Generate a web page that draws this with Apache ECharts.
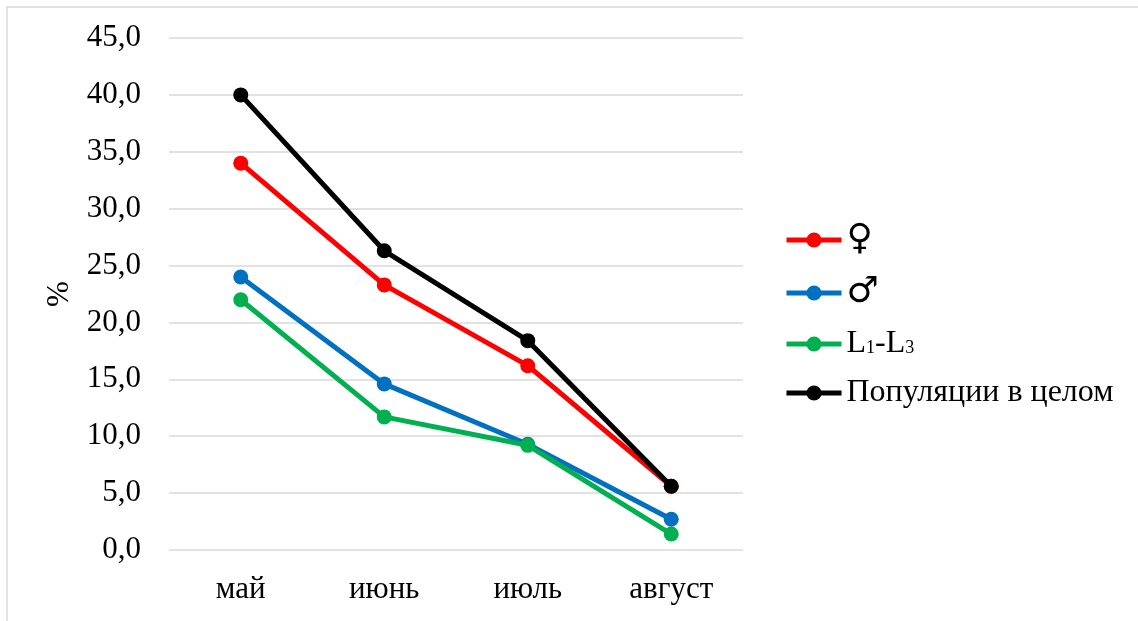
<!DOCTYPE html>
<html>
<head>
<meta charset="utf-8">
<script src="https://cdn.jsdelivr.net/npm/echarts@6/dist/echarts.min.js"></script>
<style>
  html, body { margin: 0; padding: 0; background: #fff; }
  #chart { width: 1138px; height: 621px; }
</style>
</head>
<body>
<div id="chart"></div>
<script>
// Months on the category axis
const months = ['май', 'июнь', 'июль', 'август'];

// Share (%) per month for each group
const females = [34.0, 23.3, 16.2, 5.6];
const males = [24.0, 14.6, 9.3, 2.7];
const larvae = [22.0, 11.7, 9.2, 1.4];
const population = [40.0, 26.3, 18.4, 5.6];

// Series names shown in the legend
const seriesNames = ['♀', '♂', 'L1-L3', 'Популяции в целом'];
const seriesColors = ['#FF0000', '#0070C0', '#00B050', '#000000'];
const seriesValues = [females, males, larvae, population];

// Value axis settings
const yMin = 0, yMax = 45, yStep = 5;

const FONT = '"Liberation Serif", "Times New Roman", serif';

const chart = echarts.init(document.getElementById('chart'));

const series = seriesNames.map((name, i) => ({
  name: name,
  type: 'line',
  data: seriesValues[i],
  symbol: 'circle',
  symbolSize: 15,
  showSymbol: true,
  lineStyle: { width: 5, color: seriesColors[i] },
  itemStyle: { color: seriesColors[i] },
  emphasis: { disabled: true },
  z: 2 + i
}));

chart.setOption({
  animation: false,
  backgroundColor: '#ffffff',
  graphic: [{
    type: 'rect',
    shape: { x: 7, y: 7, width: 1150, height: 640 },
    style: { fill: 'none', stroke: '#d9d9d9', lineWidth: 1.5 },
    silent: true
  }],
  grid: { left: 169, right: 395, top: 38, bottom: 71 },
  legend: {
    orient: 'vertical',
    left: 779,
    top: 217,
    itemWidth: 55,
    itemHeight: 19,
    itemGap: 17,
    lineStyle: { width: 5 },
    textStyle: {
      fontFamily: FONT,
      fontSize: 32,
      lineHeight: 32,
      color: '#000',
      rich: {
        n: { fontFamily: FONT, fontSize: 32, lineHeight: 32, color: '#000' },
        s: { fontFamily: FONT, fontSize: 18, lineHeight: 18, color: '#000', verticalAlign: 'bottom', padding: [0, 0, 3, 0] },
        g: { fontFamily: '"DejaVu Sans", sans-serif', fontSize: 36, lineHeight: 32, color: '#000' }
      }
    },
    formatter: function (name) {
      if (name === 'L1-L3') return '{n|L}{s|1}{n|-L}{s|3}';
      if (name === '♀' || name === '♂') return '{g|' + name + '}';
      return name;
    },
    data: seriesNames
  },
  xAxis: {
    type: 'category',
    data: months,
    boundaryGap: true,
    axisLine: { show: false },
    axisTick: { show: false },
    axisLabel: {
      fontFamily: FONT,
      fontSize: 31,
      color: '#000',
      margin: 24
    }
  },
  yAxis: {
    type: 'value',
    min: yMin,
    max: yMax,
    interval: yStep,
    name: '%',
    nameLocation: 'middle',
    nameGap: 80,
    nameRotate: 90,
    nameTextStyle: { fontFamily: FONT, fontSize: 31, color: '#000' },
    axisLine: { show: false },
    axisTick: { show: false },
    splitLine: { lineStyle: { color: '#d9d9d9', width: 1.5 } },
    axisLabel: {
      fontFamily: FONT,
      fontSize: 31,
      color: '#000',
      margin: 28,
      formatter: function (v) { return v.toFixed(1).replace('.', ','); }
    }
  },
  series: series
});
</script>
</body>
</html>
